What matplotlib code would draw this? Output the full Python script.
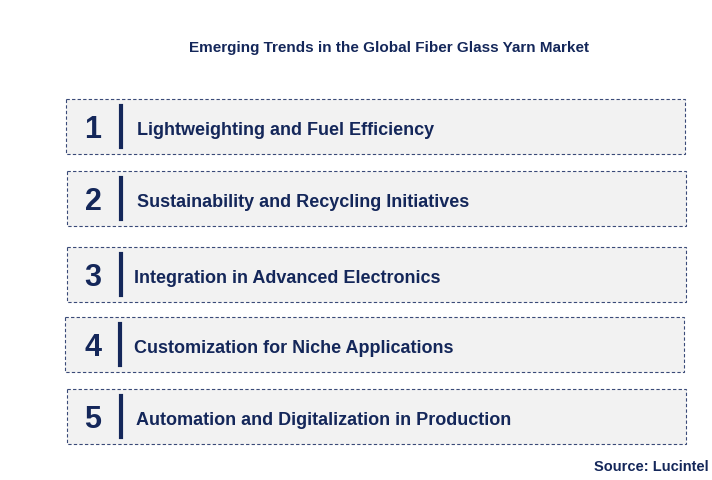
import matplotlib.pyplot as plt
from matplotlib.patches import Rectangle

title = "Emerging Trends in the Global Fiber Glass Yarn Market"
numbers = ["1", "2", "3", "4", "5"]
trends = [
    "Lightweighting and Fuel Efficiency",
    "Sustainability and Recycling Initiatives",
    "Integration in Advanced Electronics",
    "Customization for Niche Applications",
    "Automation and Digitalization in Production",
]
source = "Source: Lucintel"

# layout in pixel coordinates (y measured from top)
box_left = [66, 67, 67, 65, 67]
box_top = [100, 172, 248, 318, 390]
bar_x = [121, 121, 121, 120, 121]
text_x = [137, 137, 134, 134, 136]
box_w, box_h = 619, 55

navy = "#14275a"

fig = plt.figure(figsize=(7.12, 4.81), dpi=100)
ax = fig.add_axes([0, 0, 1, 1])
ax.set_xlim(0, 712)
ax.set_ylim(481, 0)
ax.axis("off")

ax.text(389, 48, title, ha="center", va="center", fontsize=11,
        fontweight="bold", color=navy, family="Liberation Sans")

for i in range(len(trends)):
    x0, y0 = box_left[i], box_top[i]
    ax.add_patch(Rectangle((x0, y0), box_w, box_h, facecolor="#f2f2f2",
                           edgecolor="#3a4a78", linestyle=(0, (3, 2)), linewidth=0.8))
    yc = y0 + box_h / 2 + 3
    ax.text(93, yc, numbers[i], ha="center", va="center", fontsize=22,
            fontweight="bold", color=navy, family="Liberation Sans")
    ax.plot([bar_x[i], bar_x[i]], [y0 + 7, y0 + box_h - 7], color=navy, linewidth=3)
    ax.text(text_x[i], yc, trends[i], ha="left", va="center", fontsize=13,
            fontweight="bold", color=navy, family="Liberation Sans")

ax.text(709, 467, source, ha="right", va="center", fontsize=10.5,
        fontweight="bold", color=navy, family="Liberation Sans")

fig.savefig("out.png", dpi=100)
